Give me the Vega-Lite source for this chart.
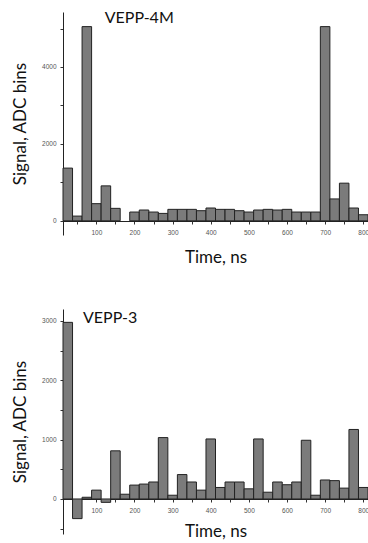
{
  "$schema": "https://vega.github.io/schema/vega-lite/v6.json",
  "background": "white",
  "padding": {"left": 11, "top": 10, "right": 0, "bottom": 0},
  "spacing": 43,
  "config": {
    "view": {"stroke": null},
    "font": "Lato",
    "axis": {
      "grid": false,
      "domainColor": "#222",
      "tickColor": "#333",
      "tickSize": 3,
      "labelFont": "Liberation Sans",
      "labelFontSize": 6.5,
      "labelColor": "#555",
      "labelOverlap": false,
      "labelFlush": false,
      "titleFont": "Lato",
      "titleFontSize": 17,
      "titleFontWeight": "normal",
      "titleColor": "#111",
      "format": "d"
    }
  },
  "datasets": {
    "top": [
      {"t0": 12.5, "t1": 37.5, "v": 1370},
      {"t0": 37.5, "t1": 62.5, "v": 122},
      {"t0": 62.5, "t1": 87.5, "v": 5050},
      {"t0": 87.5, "t1": 112.5, "v": 445},
      {"t0": 112.5, "t1": 137.5, "v": 908},
      {"t0": 137.5, "t1": 162.5, "v": 323},
      {"t0": 187.5, "t1": 212.5, "v": 227},
      {"t0": 212.5, "t1": 237.5, "v": 280},
      {"t0": 237.5, "t1": 262.5, "v": 227},
      {"t0": 262.5, "t1": 287.5, "v": 192},
      {"t0": 287.5, "t1": 312.5, "v": 297},
      {"t0": 312.5, "t1": 337.5, "v": 297},
      {"t0": 337.5, "t1": 362.5, "v": 297},
      {"t0": 362.5, "t1": 387.5, "v": 262},
      {"t0": 387.5, "t1": 412.5, "v": 332},
      {"t0": 412.5, "t1": 437.5, "v": 297},
      {"t0": 437.5, "t1": 462.5, "v": 297},
      {"t0": 462.5, "t1": 487.5, "v": 262},
      {"t0": 487.5, "t1": 512.5, "v": 227},
      {"t0": 512.5, "t1": 537.5, "v": 280},
      {"t0": 537.5, "t1": 562.5, "v": 297},
      {"t0": 562.5, "t1": 587.5, "v": 280},
      {"t0": 587.5, "t1": 612.5, "v": 297},
      {"t0": 612.5, "t1": 637.5, "v": 227},
      {"t0": 637.5, "t1": 662.5, "v": 227},
      {"t0": 662.5, "t1": 687.5, "v": 227},
      {"t0": 687.5, "t1": 712.5, "v": 5050},
      {"t0": 712.5, "t1": 737.5, "v": 568},
      {"t0": 737.5, "t1": 762.5, "v": 978},
      {"t0": 762.5, "t1": 787.5, "v": 332},
      {"t0": 787.5, "t1": 812.5, "v": 157}
    ],
    "bottom": [
      {"t0": 12.5, "t1": 37.5, "v": 2975},
      {"t0": 37.5, "t1": 62.5, "v": -331},
      {"t0": 62.5, "t1": 87.5, "v": 29},
      {"t0": 87.5, "t1": 112.5, "v": 149},
      {"t0": 112.5, "t1": 137.5, "v": -57},
      {"t0": 137.5, "t1": 162.5, "v": 811},
      {"t0": 162.5, "t1": 187.5, "v": 80},
      {"t0": 187.5, "t1": 212.5, "v": 234},
      {"t0": 212.5, "t1": 237.5, "v": 251},
      {"t0": 237.5, "t1": 262.5, "v": 286},
      {"t0": 262.5, "t1": 287.5, "v": 1034},
      {"t0": 287.5, "t1": 312.5, "v": 63},
      {"t0": 312.5, "t1": 337.5, "v": 411},
      {"t0": 337.5, "t1": 362.5, "v": 286},
      {"t0": 362.5, "t1": 387.5, "v": 149},
      {"t0": 387.5, "t1": 412.5, "v": 1011},
      {"t0": 412.5, "t1": 437.5, "v": 194},
      {"t0": 437.5, "t1": 462.5, "v": 286},
      {"t0": 462.5, "t1": 487.5, "v": 286},
      {"t0": 487.5, "t1": 512.5, "v": 171},
      {"t0": 512.5, "t1": 537.5, "v": 1011},
      {"t0": 537.5, "t1": 562.5, "v": 114},
      {"t0": 562.5, "t1": 587.5, "v": 286},
      {"t0": 587.5, "t1": 612.5, "v": 240},
      {"t0": 612.5, "t1": 637.5, "v": 286},
      {"t0": 637.5, "t1": 662.5, "v": 989},
      {"t0": 662.5, "t1": 687.5, "v": 63},
      {"t0": 687.5, "t1": 712.5, "v": 320},
      {"t0": 712.5, "t1": 737.5, "v": 309},
      {"t0": 737.5, "t1": 762.5, "v": 183},
      {"t0": 762.5, "t1": 787.5, "v": 1171},
      {"t0": 787.5, "t1": 812.5, "v": 194}
    ]
  },
  "vconcat": [
    {
      "width": 305,
      "height": 223,
      "data": {"name": "top"},
      "resolve": {"axis": {"x": "independent"}},
      "layer": [
        {
          "mark": {"type": "bar", "fill": "#7b7b7b", "stroke": "#222", "strokeWidth": 1},
          "encoding": {
            "x": {
              "field": "t0", "type": "quantitative",
              "scale": {"domain": [12.5, 812.5], "nice": false, "zero": false},
              "axis": {
                "title": "Time, ns",
                "orient": "bottom",
                "values": [100,200,300,400,500,600,700,800],
                "offset": -14,
                "labelPadding": 5,
                "titlePadding": 14
              }
            },
            "x2": {"field": "t1"},
            "y": {
              "field": "v", "type": "quantitative",
              "scale": {"domain": [-370, 5430], "nice": false},
              "axis": {
                "title": "Signal, ADC bins",
                "values": [0,1000,2000,3000,4000,5000],
                "labelExpr": "datum.value % 2000 == 0 ? datum.label : ''",
                "labelPadding": 4,
                "titlePadding": 12
              }
            },
            "y2": {"datum": 0}
          }
        },
        {
          "mark": {"type": "bar", "fillOpacity": 0, "strokeOpacity": 0},
          "encoding": {
            "x": {
              "field": "t0", "type": "quantitative",
              "axis": {
                "title": null,
                "orient": "bottom",
                "values": [50,150,250,350,450,550,650,750],
                "labels": false,
                "domain": false,
                "offset": -14
              }
            },
            "x2": {"field": "t1"},
            "y": {"field": "v", "type": "quantitative"},
            "y2": {"datum": 0}
          }
        },
        {
          "data": {"values": [{"label": "VEPP-4M"}]},
          "mark": {"type": "text", "align": "left", "baseline": "alphabetic", "fontSize": 16, "font": "Lato", "color": "#111"},
          "encoding": {
            "x": {"datum": 122, "axis": null},
            "y": {"datum": 5140},
            "text": {"field": "label"}
          }
        }
      ]
    },
    {
      "width": 305,
      "height": 225,
      "data": {"name": "bottom"},
      "resolve": {"axis": {"x": "independent", "y": "independent"}},
      "layer": [
        {
          "mark": {"type": "bar", "fill": "#7b7b7b", "stroke": "#222", "strokeWidth": 1},
          "encoding": {
            "x": {
              "field": "t0", "type": "quantitative",
              "scale": {"domain": [12.5, 812.5], "nice": false, "zero": false},
              "axis": {
                "title": "Time, ns",
                "orient": "bottom",
                "values": [100,200,300,400,500,600,700,800],
                "offset": -35,
                "labelPadding": 5,
                "titlePadding": 10
              }
            },
            "x2": {"field": "t1"},
            "y": {
              "field": "v", "type": "quantitative",
              "scale": {"domain": [-590, 3200], "nice": false},
              "axis": {
                "title": "Signal, ADC bins",
                "orient": "left",
                "values": [0,1000,2000,3000],
                "labelPadding": 4,
                "titlePadding": 12
              }
            },
            "y2": {"datum": 0}
          }
        },
        {
          "mark": {"type": "bar", "fillOpacity": 0, "strokeOpacity": 0},
          "encoding": {
            "x": {
              "field": "t0", "type": "quantitative",
              "axis": {
                "title": null,
                "orient": "bottom",
                "values": [50,150,250,350,450,550,650,750],
                "labels": false,
                "domain": false,
                "offset": -35
              }
            },
            "x2": {"field": "t1"},
            "y": {
              "field": "v", "type": "quantitative",
              "axis": {
                "title": null,
                "orient": "left",
                "values": [-500,500,1500,2500],
                "labels": false,
                "domain": false
              }
            },
            "y2": {"datum": 0}
          }
        },
        {
          "data": {"values": [{"label": "VEPP-3"}]},
          "mark": {"type": "text", "align": "left", "baseline": "alphabetic", "fontSize": 16, "font": "Lato", "color": "#111"},
          "encoding": {
            "x": {"datum": 65, "axis": null},
            "y": {"datum": 2971, "axis": null},
            "text": {"field": "label"}
          }
        }
      ]
    }
  ]
}
